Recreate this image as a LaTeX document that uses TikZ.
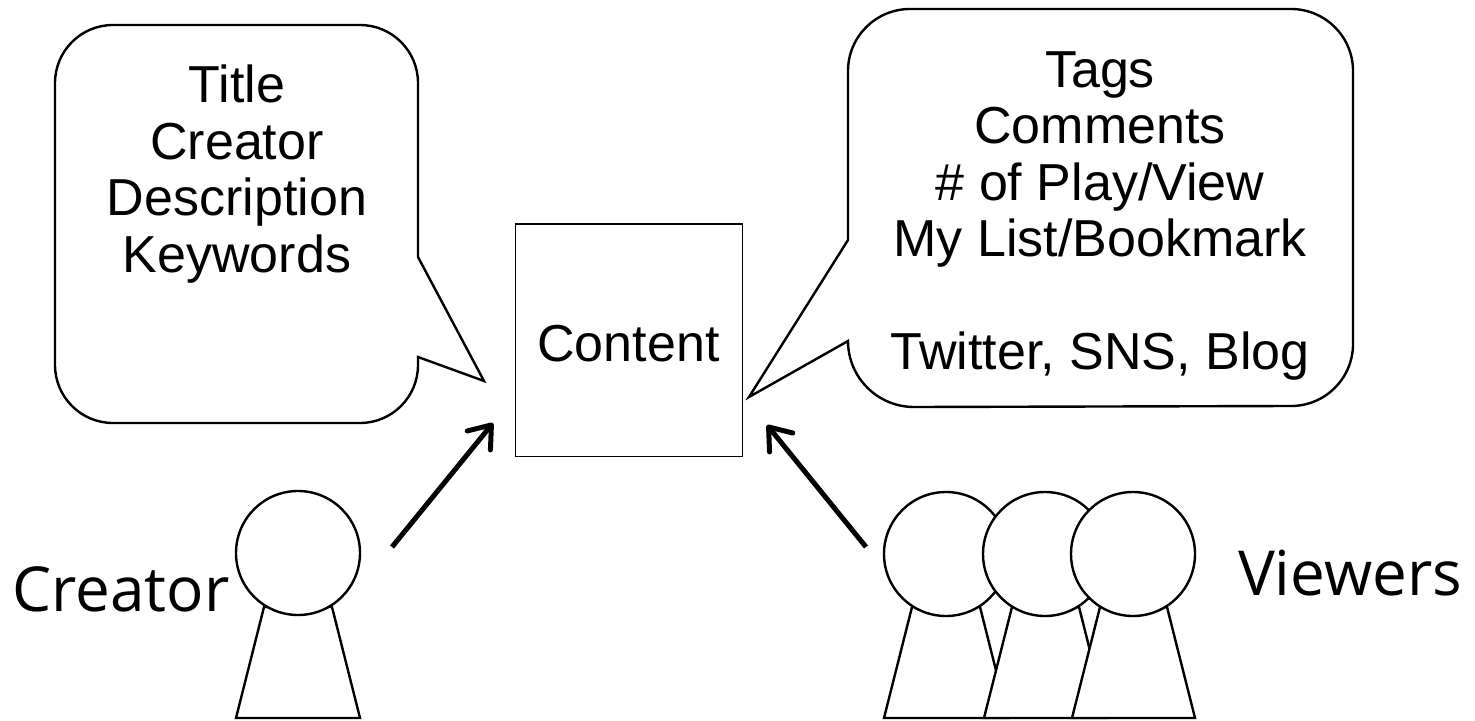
\documentclass[tikz,border=0pt]{standalone}
\usepackage{fontspec}
\setmainfont{Liberation Sans}
\newfontfamily\labelfont{Open Sans}
\usetikzlibrary{arrows.meta}
\tikzset{
  bubble/.style={draw,fill=white,line width=2.4bp,line join=miter},
  bubbletext/.style={align=center,font=\fontsize{52bp}{56.5bp}\selectfont,inner sep=0pt},
  head/.style={draw,fill=white,circle,line width=2.4bp,minimum size=124bp,inner sep=0pt},
  body/.style={draw,fill=white,line width=2.4bp,line join=miter},
  personlabel/.style={font=\labelfont\fontsize{62bp}{66bp}\selectfont,inner sep=0pt,anchor=base},
  flow/.style={-{Straight Barb[length=20bp,width=30bp,line width=5bp,round]},line width=5bp},
}
\begin{document}
\begin{tikzpicture}[x=1bp,y=-1bp]
    \useasboundingbox (0,0) rectangle (1475,721);
    %%
    \node (content) at (628.5,340) [draw,rectangle,line width=1bp,minimum width=227bp,minimum height=232bp,inner sep=0pt,text height=43.5bp,font=\fontsize{52bp}{57bp}\selectfont] {Content};
    %%
    \draw [bubble] (55,83) arc (180:270:58) -- (360,25) arc (270:360:58) -- (418,257) -- (484,381) -- (418,357) -- (418,365) arc (0:90:58) -- (113,423) arc (90:180:58) -- cycle;
    \node (meta) at (237,174) [bubbletext] {Title\\Creator\\Description\\Keywords};
    %%
    \draw [bubble] (848,71) arc (180:270:62) -- (1291,9) arc (270:360:62) -- (1353,344) arc (0:90:62) -- (914,407) arc (90:180:66) -- (749,397) -- (848,240) -- cycle;
    \node (social) at (1100,216) [bubbletext] {Tags\\Comments\\\# of Play/View\\My List/Bookmark\\[56.5bp]Twitter, SNS, Blog};
    %%
    \draw [body] (236,718) -- (264,607) -- (332,607) -- (360,718) -- cycle;
    \node (creator) at (298,553) [head] {};
    \node (creatorlabel) at (121,611) [personlabel] {Creator};
    %%
    \draw [body] (884,718) -- (912,607) -- (980,607) -- (1008,718) -- cycle;
    \node (viewera) at (946,554) [head] {};
    \draw [body] (984,718) -- (1012,607) -- (1079,607) -- (1107,718) -- cycle;
    \node (viewerb) at (1045,554) [head] {};
    \draw [body] (1072,718) -- (1100,607) -- (1167,607) -- (1195,718) -- cycle;
    \node (viewerc) at (1133,554) [head] {};
    \node (viewerslabel) at (1350,595) [personlabel] {Viewers};
    %%
    \coordinate (creatorout) at (392,547);
    \coordinate (contentleft) at (493,423);
    \coordinate (viewersout) at (866,547);
    \coordinate (contentright) at (767,425);
    \draw [flow] (creatorout) -- (contentleft);
    \draw [flow] (viewersout) -- (contentright);
    %
\end{tikzpicture}
\end{document}
